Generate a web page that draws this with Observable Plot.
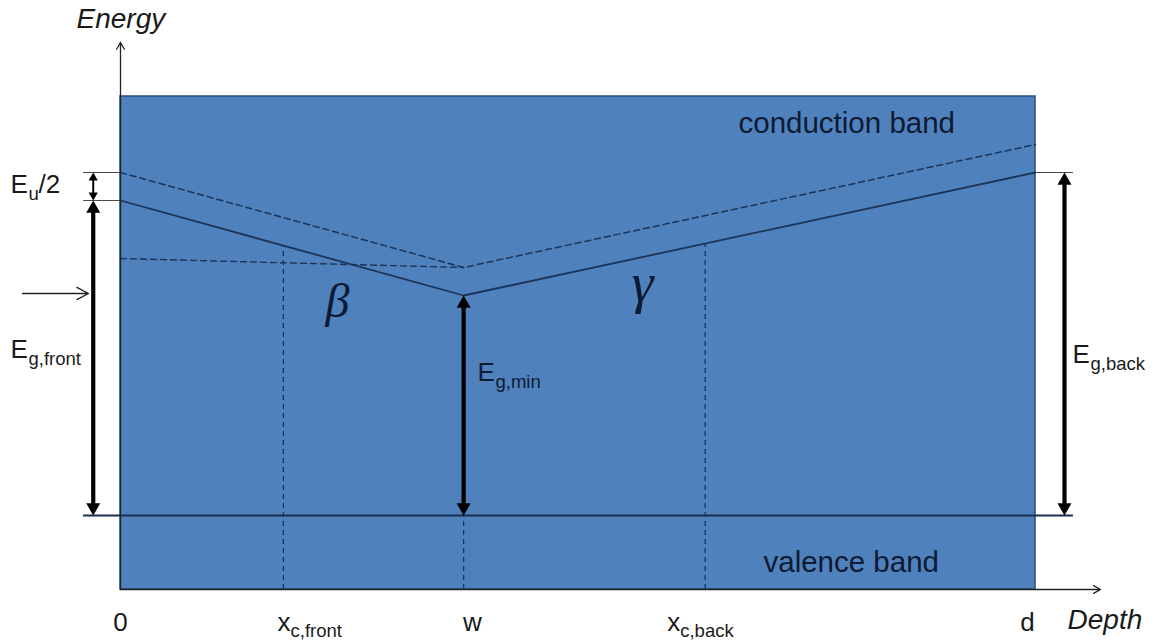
<!DOCTYPE html>
<html>
<head>
<meta charset="utf-8">
<script src="https://cdn.jsdelivr.net/npm/d3@7"></script>
<script src="https://cdn.jsdelivr.net/npm/@observablehq/plot@0.6"></script>
<style>
  html, body { margin: 0; padding: 0; background: #ffffff; }
  #chart svg { display: block; }
</style>
</head>
<body>
<div id="chart"></div>
<script>
// ---------- Data (depth in units of layer thickness d, energy in eV relative to valence band) ----------
const DEPTH_ZERO = 0;
const XC_FRONT = 0.178;
const W = 0.375;
const XC_BACK = 0.639;
const D = 1.0;
const DEPTH_AXIS_END = 1.071;
const LEFT_ANNOT_X = -0.0298;   // depth where the left gap arrows sit
const RIGHT_ANNOT_X = 1.0317;   // depth where the right gap arrow sits
const TICK_LEFT = -0.0404;
const TICK_RIGHT = 1.0415;
const POINTER_FROM = -0.107;
const POINTER_TO = -0.035;

const EV = 0;                   // valence band edge
const BAND_TOP = 2.095;
const BAND_BOTTOM = -0.37;
const ENERGY_AXIS_END = 2.365;
const EG_FRONT = 1.575;
const EG_MIN = 1.10;
const EG_BACK = 1.715;
const EU_HALF = 0.14;
const POINTER_ENERGY = 1.11;

// Conduction band edge (solid) and shifted edge +Eu/2 (dashed)
const cbDepth = [DEPTH_ZERO, W, D];
const cbEnergy = [EG_FRONT, EG_MIN, EG_BACK];
const cbShiftedEnergy = [1.715, 1.24, 1.855];
// near-horizontal dashed reference line in front part
const refDepth = [DEPTH_ZERO, W];
const refEnergy = [1.285, 1.24];
// vertical dashed markers
const markerDepth = [XC_FRONT, W, XC_BACK];
const markerTop = [1.345, EV, 1.36];

// Labels
const gapLabelText = ["E", "E", "E", "E"];
const gapLabelSub = ["u", "g,front", "g,min", "g,back"];
const gapLabelTail = ["/2", "", "", ""];
const gapLabelDepth = [-0.1202, -0.1202, 0.3902, 1.0404];
const gapLabelEnergy = [1.615, 0.79, 0.675, 0.765];
const gapLabelInside = [false, false, true, false];

const depthTickText = ["0", "w", "d"];
const depthTickDepth = [DEPTH_ZERO, 0.3847, 0.9913];
const xcLabelSub = ["c,front", "c,back"];
const xcLabelDepth = [0.1716, 0.5975];
const TICK_LABEL_ENERGY = -0.575;

const bandText = ["conduction band", "valence band"];
const bandDepth = [0.6754, 0.7027];
const bandEnergy = [1.915, -0.28];

const betaText = ["β"], betaDepth = [0.2372], betaEnergy = [0.995];
const gammaText = ["γ"], gammaDepth = [0.5705], gammaEnergy = [1.07];

// ---------- Build tables ----------
const cbLine = cbDepth.map((x, i) => ({x, y: cbEnergy[i]}));
const cbShiftLine = cbDepth.map((x, i) => ({x, y: cbShiftedEnergy[i]}));
const refLine = refDepth.map((x, i) => ({x, y: refEnergy[i]}));
const markers = markerDepth.map((x, i) => ({x, y1: BAND_BOTTOM, y2: markerTop[i]}));
const ticks = [
  {y: cbShiftedEnergy[0], x1: TICK_LEFT, x2: DEPTH_ZERO},
  {y: cbEnergy[0], x1: TICK_LEFT, x2: DEPTH_ZERO},
  {y: cbEnergy[2], x1: D, x2: TICK_RIGHT}
];
const bigArrows = [
  {x: LEFT_ANNOT_X, y1: EV, y2: EG_FRONT},
  {x: W, y1: EV, y2: EG_MIN},
  {x: RIGHT_ANNOT_X, y1: EV, y2: EG_BACK}
];
const smallArrows = [
  {x: LEFT_ANNOT_X, y1: EG_FRONT, y2: EG_FRONT + EU_HALF}
];
const axes = [
  {x1: DEPTH_ZERO, y1: BAND_BOTTOM, x2: DEPTH_ZERO, y2: ENERGY_AXIS_END},
  {x1: DEPTH_ZERO, y1: BAND_BOTTOM, x2: DEPTH_AXIS_END, y2: BAND_BOTTOM}
];
const pointer = [{x1: POINTER_FROM, x2: POINTER_TO, y1: POINTER_ENERGY, y2: POINTER_ENERGY}];

const gapLabels = gapLabelText.map((t, i) => ({
  main: t, sub: gapLabelSub[i], tail: gapLabelTail[i],
  x: gapLabelDepth[i], y: gapLabelEnergy[i], inside: gapLabelInside[i]
}));
const depthTicks = depthTickText.map((t, i) => ({t, x: depthTickDepth[i], y: TICK_LABEL_ENERGY}));
const xcLabels = xcLabelSub.map((s, i) => ({main: "x", sub: s, x: xcLabelDepth[i], y: TICK_LABEL_ENERGY}));
const bandLabels = bandText.map((t, i) => ({t, x: bandDepth[i], y: bandEnergy[i]}));
const beta = betaText.map((t, i) => ({t, x: betaDepth[i], y: betaEnergy[i]}));
const gamma = gammaText.map((t, i) => ({t, x: gammaDepth[i], y: gammaEnergy[i]}));

// ---------- Styles ----------
const FONT = "Liberation Sans, Arial, sans-serif";
const SERIF = "Liberation Serif, Times New Roman, serif";
const BLUE = "#4f81bd";
const LINE = "#1c3458";
const INK_IN = "#0d1a33";
const INK_OUT = "#1a1a1a";

const R_BIG = 5.2, R_SMALL = 3.4;
const tipOffset = r => 2 * Math.sqrt((r * r * Math.PI) / (3 * Math.sqrt(3)));

const chart = Plot.plot({
  width: 1163,
  height: 643,
  margin: 0,
  style: {fontFamily: FONT, background: "#ffffff"},
  x: {domain: [0, 1], range: [120, 1035], axis: null},
  y: {domain: [0, 1], range: [515, 315], axis: null},
  marks: [
    Plot.rect([{x1: DEPTH_ZERO, x2: D, y1: BAND_BOTTOM, y2: BAND_TOP}],
      {x1: "x1", x2: "x2", y1: "y1", y2: "y2", fill: BLUE, stroke: "#2a4d7c", strokeWidth: 1.5}),
    Plot.ruleY(ticks, {y: "y", x1: "x1", x2: "x2", stroke: "#4a4a4a", strokeWidth: 1}),
    Plot.ruleY([EV], {x1: TICK_LEFT, x2: TICK_RIGHT, stroke: "#18304f", strokeWidth: 1.8}),
    Plot.ruleX(markers, {x: "x", y1: "y1", y2: "y2", stroke: LINE, strokeWidth: 1.3, strokeDasharray: "5,4"}),
    Plot.line(refLine, {x: "x", y: "y", stroke: LINE, strokeWidth: 1.4, strokeDasharray: "6,4"}),
    Plot.line(cbShiftLine, {x: "x", y: "y", stroke: LINE, strokeWidth: 1.5, strokeDasharray: "6,4"}),
    Plot.line(cbLine, {x: "x", y: "y", stroke: LINE, strokeWidth: 1.8}),
    // axes with open arrowheads
    Plot.arrow(axes, {x1: "x1", y1: "y1", x2: "x2", y2: "y2", stroke: "#222", strokeWidth: 1.3, headLength: 9, headAngle: 60}),
    Plot.arrow(pointer, {x1: "x1", y1: "y1", x2: "x2", y2: "y2", stroke: "#222", strokeWidth: 1.4, headLength: 14, headAngle: 55}),
    // gap arrows: shafts
    Plot.arrow(bigArrows, {x1: "x", x2: "x", y1: "y1", y2: "y2", stroke: "#000", strokeWidth: 4.2, headLength: 0, insetStart: 8, insetEnd: 8, strokeLinecap: "butt"}),
    Plot.arrow(smallArrows, {x1: "x", x2: "x", y1: "y1", y2: "y2", stroke: "#000", strokeWidth: 2, headLength: 0, insetStart: 5, insetEnd: 5, strokeLinecap: "butt"}),
    // gap arrows: filled heads
    Plot.dot(bigArrows, {x: "x", y: "y2", symbol: "triangle", r: R_BIG, fill: "#000", rotate: 0, dy: tipOffset(R_BIG)}),
    Plot.dot(bigArrows, {x: "x", y: "y1", symbol: "triangle", r: R_BIG, fill: "#000", rotate: 180, dy: -tipOffset(R_BIG)}),
    Plot.dot(smallArrows, {x: "x", y: "y2", symbol: "triangle", r: R_SMALL, fill: "#000", rotate: 0, dy: tipOffset(R_SMALL)}),
    Plot.dot(smallArrows, {x: "x", y: "y1", symbol: "triangle", r: R_SMALL, fill: "#000", rotate: 180, dy: -tipOffset(R_SMALL)}),
    // gap labels with subscripts
    Plot.text(gapLabels, {x: "x", y: "y", text: "main", textAnchor: "start", lineAnchor: "bottom", fontSize: 26,
      fill: d => d.inside ? INK_IN : INK_OUT}),
    Plot.text(gapLabels, {x: "x", y: "y", text: "sub", textAnchor: "start", lineAnchor: "bottom", fontSize: 18.5, dx: 18, dy: 7,
      fill: d => d.inside ? INK_IN : INK_OUT}),
    Plot.text(gapLabels.filter(d => d.tail), {x: "x", y: "y", text: "tail", textAnchor: "start", lineAnchor: "bottom", fontSize: 26, dx: 28,
      fill: INK_OUT}),
    // depth tick labels
    Plot.text(depthTicks, {x: "x", y: "y", text: "t", textAnchor: "middle", lineAnchor: "bottom", fontSize: 26, fill: INK_OUT}),
    Plot.text(xcLabels, {x: "x", y: "y", text: "main", textAnchor: "start", lineAnchor: "bottom", fontSize: 26, fill: INK_OUT}),
    Plot.text(xcLabels, {x: "x", y: "y", text: "sub", textAnchor: "start", lineAnchor: "bottom", fontSize: 18.5, dx: 13, dy: 6, fill: INK_OUT}),
    // axis titles
    Plot.text([{t: "Energy", x: -0.0481, y: 2.44}], {x: "x", y: "y", text: "t", textAnchor: "start", lineAnchor: "bottom", fontSize: 28, fontStyle: "italic", fill: INK_OUT}),
    Plot.text([{t: "Depth", x: 1.0350, y: -0.565}], {x: "x", y: "y", text: "t", textAnchor: "start", lineAnchor: "bottom", fontSize: 28, fontStyle: "italic", fill: INK_OUT}),
    // band names
    Plot.text(bandLabels, {x: "x", y: "y", text: "t", textAnchor: "start", lineAnchor: "bottom", fontSize: 29.5, fill: INK_IN}),
    // greek symbols
    Plot.text(beta, {x: "x", y: "y", text: "t", textAnchor: "middle", lineAnchor: "bottom", fontSize: 48, fontStyle: "italic",
      fontFamily: SERIF, fill: INK_IN}),
    Plot.text(gamma, {x: "x", y: "y", text: "t", textAnchor: "middle", lineAnchor: "bottom", fontSize: 56, fontStyle: "italic",
      fontFamily: SERIF, fill: INK_IN})
  ]
});
document.getElementById("chart").appendChild(chart);
</script>
</body>
</html>
